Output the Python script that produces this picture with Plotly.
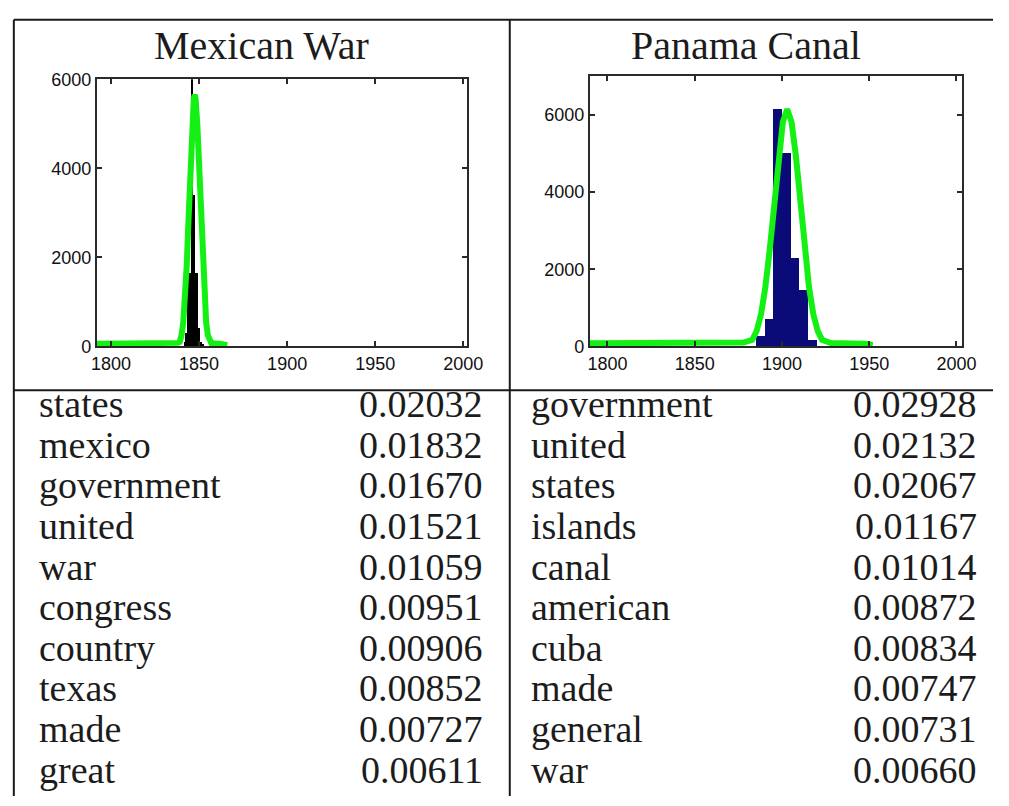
import plotly.graph_objects as go

W, H = 1009, 806

# ---------------- data ----------------
titles = ["Mexican War", "Panama Canal"]

# Mexican War histogram (documents per year)
mw_years = [1842, 1843, 1844, 1845, 1846, 1847, 1848, 1849, 1850, 1851, 1852]
mw_counts = [100, 300, 1650, 1650, 7000, 3400, 1650, 1650, 400, 100, 50]
# Mexican War fitted curve
mw_fit_years = [1792, 1820, 1835, 1838, 1839, 1840, 1841, 1842, 1843, 1844, 1845, 1846,
                1847, 1847.5, 1848, 1849, 1850, 1851, 1852, 1853, 1854, 1855, 1856,
                1857, 1862, 1866]
mw_fit_vals = [60, 60, 70, 80, 102, 248, 540, 1052, 1834, 2860, 3994, 4986,
               5570, 5650, 5570, 4986, 3994, 2860, 1834, 1052, 540, 248, 102,
               70, 60, 30]

# Panama Canal histogram (5-year bins, bin centres)
pc_bins = [1887.5, 1892.5, 1897.5, 1902.5, 1907.5, 1912.5, 1917.5]
pc_counts = [250, 700, 6150, 5010, 2280, 1450, 150]
# Panama Canal fitted curve
pc_fit_years = [1790, 1850, 1878, 1883, 1885.5, 1888, 1890.5, 1893, 1895.5, 1898, 1900.5,
                1903, 1905.5, 1908, 1910.5, 1913, 1915.5, 1918, 1920.5, 1923, 1928,
                1948, 1952]
pc_fit_vals = [80, 90, 100, 170, 400, 830, 1540, 2510, 3730, 4930, 5820,
               6150, 5820, 4930, 3730, 2510, 1540, 830, 400, 170, 90,
               70, 30]

mw_words = ["states", "mexico", "government", "united", "war",
            "congress", "country", "texas", "made", "great"]
mw_probs = ["0.02032", "0.01832", "0.01670", "0.01521", "0.01059",
            "0.00951", "0.00906", "0.00852", "0.00727", "0.00611"]
pc_words = ["government", "united", "states", "islands", "canal",
            "american", "cuba", "made", "general", "war"]
pc_probs = ["0.02928", "0.02132", "0.02067", "0.01167", "0.01014",
            "0.00872", "0.00834", "0.00747", "0.00731", "0.00660"]

x_ticks = [1800, 1850, 1900, 1950, 2000]
y_ticks = [0, 2000, 4000, 6000]

# ---------------- helpers ----------------
def px(x):
    return x / W

def py(y):
    return 1 - y / H

GREEN = "#14F014"
SERIF = "Liberation Serif, Times New Roman, serif"
SANS = "Liberation Sans, Arial, sans-serif"
TXT = "#1c1c1c"

fig = go.Figure()

fig.add_trace(go.Bar(x=mw_years, y=mw_counts, width=1, marker=dict(color="#000000", line=dict(width=0)),
                     xaxis="x", yaxis="y", showlegend=False))
fig.add_trace(go.Scatter(x=mw_fit_years, y=mw_fit_vals, mode="lines",
                         line=dict(color=GREEN, width=6), xaxis="x", yaxis="y", showlegend=False))
fig.add_trace(go.Bar(x=pc_bins, y=pc_counts, width=5, marker=dict(color="#0A0A78", line=dict(width=0)),
                     xaxis="x2", yaxis="y2", showlegend=False))
fig.add_trace(go.Scatter(x=pc_fit_years, y=pc_fit_vals, mode="lines",
                         line=dict(color=GREEN, width=6), xaxis="x2", yaxis="y2", showlegend=False))

axis_common = dict(showgrid=False, zeroline=False, showline=True, mirror="ticks",
                   linecolor="#2a2a2a", linewidth=2, ticks="inside", ticklen=5,
                   tickwidth=1.5, tickcolor="#2a2a2a",
                   tickfont=dict(family=SANS, size=18, color="#111111"))

fig.update_layout(
    width=W, height=H,
    margin=dict(l=0, r=0, t=0, b=0),
    paper_bgcolor="white", plot_bgcolor="white",
    bargap=0, barmode="overlay",
    xaxis=dict(domain=[px(93), px(471)], range=[1792, 2002], tickvals=x_ticks,
               anchor="y", **axis_common),
    yaxis=dict(domain=[py(345), py(71)], range=[0, 6000], tickvals=y_ticks,
               anchor="x", **axis_common),
    xaxis2=dict(domain=[px(597), px(977)], range=[1790, 2003], tickvals=x_ticks,
                anchor="y2", **axis_common),
    yaxis2=dict(domain=[py(345), py(68)], range=[0, 7000], tickvals=y_ticks,
                anchor="x2", **axis_common),
)

# table lines
line_style = dict(color="#1a1a1a", width=2)
shapes = [
    dict(type="line", xref="paper", yref="paper", x0=px(8), x1=px(1009), y0=py(10), y1=py(10), line=line_style),
    dict(type="line", xref="paper", yref="paper", x0=px(8), x1=px(8), y0=py(10), y1=py(806), line=line_style),
    dict(type="line", xref="paper", yref="paper", x0=px(515), x1=px(515), y0=py(10), y1=py(806), line=line_style),
    dict(type="line", xref="paper", yref="paper", x0=px(8), x1=px(1009), y0=py(390), y1=py(390), line=line_style),
]
fig.update_layout(shapes=shapes)

annotations = []
for t, cx in zip(titles, [261, 756]):
    annotations.append(dict(text=t, x=px(cx), y=py(36), xref="paper", yref="paper",
                            xanchor="center", yanchor="middle", showarrow=False,
                            font=dict(family=SERIF, size=40, color=TXT)))

row_h = (783 - 408) / 9
for col, (words, probs, xl, xr) in enumerate([(mw_words, mw_probs, 32, 490),
                                                (pc_words, pc_probs, 535, 995)]):
    for i, (w, p) in enumerate(zip(words, probs)):
        yc = 404 + i * row_h
        annotations.append(dict(text=w, x=px(xl), y=py(yc), xref="paper", yref="paper",
                                xanchor="left", yanchor="middle", showarrow=False,
                                font=dict(family=SERIF, size=38, color=TXT)))
        annotations.append(dict(text=p, x=px(xr), y=py(yc), xref="paper", yref="paper",
                                xanchor="right", yanchor="middle", showarrow=False,
                                font=dict(family=SERIF, size=38, color=TXT)))
fig.update_layout(annotations=annotations)

fig.write_html("out.html", config={"displayModeBar": False},
               post_script="document.body.style.margin='0px';")
